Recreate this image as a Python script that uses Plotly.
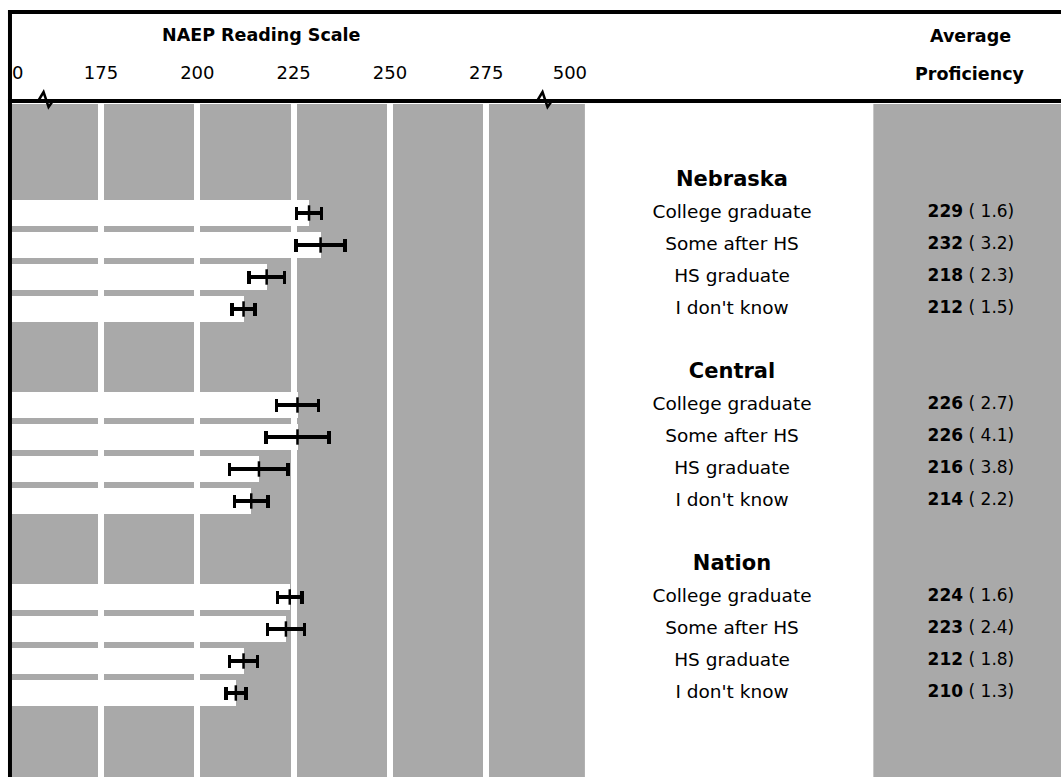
import plotly.graph_objects as go

# ---------------- data ----------------
groups = ["Nebraska", "Central", "Nation"]
levels = ["College graduate", "Some after HS", "HS graduate", "I don't know"]
nebraska_avg = [229, 232, 218, 212]
nebraska_se = [1.6, 3.2, 2.3, 1.5]
central_avg = [226, 226, 216, 214]
central_se = [2.7, 4.1, 3.8, 2.2]
nation_avg = [224, 223, 212, 210]
nation_se = [1.6, 2.4, 1.8, 1.3]

scale_ticks = [153.4, 175, 200, 225, 250, 275, 296.7]
scale_tick_labels = ["0", "175", "200", "225", "250", "275", "500"]
grid_values = [175, 200, 225, 250, 275]
break_values = [160.5, 290.0]

group_avgs = [nebraska_avg, central_avg, nation_avg]
group_ses = [nebraska_se, central_se, nation_se]

# ---------------- layout constants ----------------
W, H = 1063, 777
GRAY = "#a9a9a9"
FONT = "DejaVu Sans"
ROWS_PER_GROUP = len(levels) + 2
top_px = 104


def px_y(py):
    return 1 - py / H


fig = go.Figure()

# bars, error bars, centre ticks
for gi, (avgs, ses) in enumerate(zip(group_avgs, group_ses)):
    ys = [gi * ROWS_PER_GROUP + 1 + ri for ri in range(len(levels))]
    fig.add_trace(go.Bar(
        orientation="h", x=avgs, y=ys, width=0.8,
        marker=dict(color="white", line=dict(width=0)),
        error_x=dict(type="data", array=[2 * s for s in ses], color="black",
                     thickness=3.5, width=6.5),
        xaxis="x", yaxis="y", hoverinfo="skip"))
    fig.add_trace(go.Scatter(
        x=avgs, y=ys, mode="markers",
        marker=dict(symbol="line-ns", size=11, line=dict(width=2.5, color="black")),
        xaxis="x", yaxis="y", hoverinfo="skip"))

# labels column
lab_y, lab_t = [], []
for gi, g in enumerate(groups):
    lab_y.append(gi * ROWS_PER_GROUP)
    lab_t.append("<b>%s</b>" % g)
fig.add_trace(go.Scatter(
    x=[0.51] * len(lab_y), y=lab_y, text=lab_t, mode="text",
    textfont=dict(family=FONT, size=21, color="black"),
    xaxis="x2", yaxis="y", hoverinfo="skip"))
row_y, row_t, val_t = [], [], []
for gi, (avgs, ses) in enumerate(zip(group_avgs, group_ses)):
    for ri, lv in enumerate(levels):
        row_y.append(gi * ROWS_PER_GROUP + 1 + ri)
        row_t.append(lv)
        val_t.append("<b>%d</b> ( %.1f)" % (avgs[ri], ses[ri]))
fig.add_trace(go.Scatter(
    x=[0.51] * len(row_y), y=row_y, text=row_t, mode="text",
    textfont=dict(family=FONT, size=18.5, color="black"),
    xaxis="x2", yaxis="y", hoverinfo="skip"))
fig.add_trace(go.Scatter(
    x=[0.52] * len(row_y), y=row_y, text=val_t, mode="text",
    textfont=dict(family=FONT, size=17, color="black"),
    xaxis="x3", yaxis="y", hoverinfo="skip"))

slot0_px = 181
slot_px = 32
y_top = -(slot0_px - top_px) / slot_px
y_bot = (H - slot0_px) / slot_px

fig.update_layout(
    width=W, height=H, margin=dict(l=0, r=0, t=0, b=0),
    paper_bgcolor="white", plot_bgcolor="white", showlegend=False,
    bargap=0,
    xaxis=dict(domain=[12 / W, 586 / W], range=[151.9, 300.6], side="top",
               anchor="y", tickmode="array", tickvals=scale_ticks,
               ticktext=scale_tick_labels, ticks="", showgrid=False,
               zeroline=False, showline=False, ticklabelstandoff=20,
               tickfont=dict(family=FONT, size=18, color="black"),
               minor=dict(tickmode="array", tickvals=grid_values, showgrid=True,
                          gridcolor="white", gridwidth=6, ticks="")),
    xaxis2=dict(domain=[586 / W, 875 / W], range=[0, 1], visible=False, anchor="y"),
    xaxis3=dict(domain=[875 / W, 1], range=[0, 1], visible=False, anchor="y"),
    yaxis=dict(domain=[0, px_y(top_px)], range=[y_bot, y_top], visible=False),
)

shapes = [
    dict(type="rect", xref="x domain", yref="y domain", x0=0, x1=1, y0=0, y1=1,
         fillcolor=GRAY, line=dict(width=0), layer="below"),
    dict(type="rect", xref="x3 domain", yref="y domain", x0=0, x1=1, y0=0, y1=1,
         fillcolor=GRAY, line=dict(width=0), layer="below"),
    # header frame
    dict(type="line", xref="paper", yref="paper", x0=8 / W, x1=1,
         y0=px_y(12), y1=px_y(12), line=dict(color="black", width=4)),
    dict(type="line", xref="paper", yref="paper", x0=8 / W, x1=1,
         y0=px_y(101), y1=px_y(101), line=dict(color="black", width=4)),
    dict(type="line", xref="paper", yref="paper", x0=10 / W, x1=10 / W,
         y0=px_y(10), y1=0, line=dict(color="black", width=4)),
]
for b in break_values:
    path = "M %f,%f L %f,%f L %f,%f L %f,%f" % (
        b - 1.8, px_y(101), b - 0.4, px_y(92), b + 0.9, px_y(107), b + 2.0, px_y(101))
    shapes.append(dict(type="path", xref="x", yref="paper", path=path,
                       line=dict(color="black", width=2.5)))
fig.update_layout(shapes=shapes)

ann = [
    dict(text="<b>NAEP Reading Scale</b>", x=262 / W, y=px_y(35)),
    dict(text="<b>Average</b>", x=972 / W, y=px_y(36)),
    dict(text="<b>Proficiency</b>", x=972 / W, y=px_y(74)),
]
for a in ann:
    a.update(xref="paper", yref="paper", showarrow=False, xanchor="center",
             yanchor="middle", font=dict(family=FONT, size=17.5, color="black"))
fig.update_layout(annotations=ann)

fig.write_html("out.html", config={"displayModeBar": False},
               post_script="document.body.style.margin='0';")
